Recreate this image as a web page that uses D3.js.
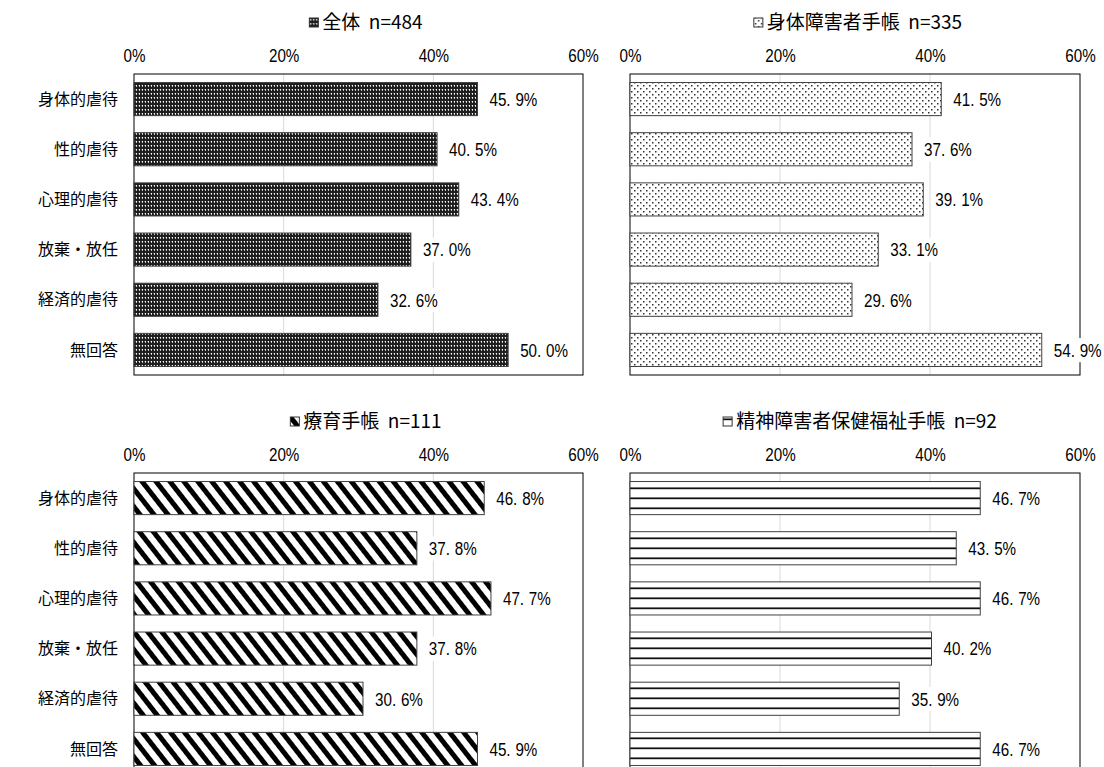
<!DOCTYPE html>
<html><head><meta charset="utf-8">
<script src="https://cdn.jsdelivr.net/npm/d3@7"></script>
<style>
body{margin:0;background:#fff;}
svg{display:block;}
.cat{font-family:"Noto Sans CJK JP",sans-serif;font-size:16px;fill:#000;}
.tick{font-family:"Liberation Sans",sans-serif;font-size:19px;fill:#000;}
.val{font-family:"Liberation Sans",sans-serif;font-size:19px;fill:#000;}
.title{font-family:"Noto Sans CJK JP",sans-serif;font-size:19px;fill:#000;}
</style></head>
<body>
<svg id="c" width="1104" height="767"></svg>
<script>
const categories = ["身体的虐待","性的虐待","心理的虐待","放棄・放任","経済的虐待","無回答"];
const panelTitles = ["全体","身体障害者手帳","療育手帳","精神障害者保健福祉手帳"];
const panelN = [484,335,111,92];
const valuesAll = [45.9,40.5,43.4,37.0,32.6,50.0];
const valuesPhysical = [41.5,37.6,39.1,33.1,29.6,54.9];
const valuesRyoiku = [46.8,37.8,47.7,37.8,30.6,45.9];
const valuesMental = [46.7,43.5,46.7,40.2,35.9,46.7];
const tickValues = [0,20,40,60];

const svg = d3.select("#c");
const defs = svg.append("defs");
const SX = 0.8; // horizontal squeeze to mimic the narrow half-width font

// pattern 1: dense dark dots
const p1 = defs.append("pattern").attr("id","p1").attr("patternUnits","userSpaceOnUse").attr("width",3).attr("height",4);
p1.append("rect").attr("width",3).attr("height",4).attr("fill","#1e1e1e");
p1.append("rect").attr("x",1).attr("y",1).attr("width",1).attr("height",1).attr("fill","#fff");
p1.append("rect").attr("x",1).attr("y",2).attr("width",1).attr("height",1).attr("fill","#bbb");
p1.append("rect").attr("x",0).attr("y",1).attr("width",1).attr("height",1).attr("fill","#555");
// pattern 2: sparse dots
const p2 = defs.append("pattern").attr("id","p2").attr("patternUnits","userSpaceOnUse").attr("width",6).attr("height",6);
p2.append("rect").attr("width",6).attr("height",6).attr("fill","#fff");
p2.append("rect").attr("x",1).attr("y",1).attr("width",1.5).attr("height",1.5).attr("fill","#333");
p2.append("rect").attr("x",4).attr("y",4).attr("width",1.5).attr("height",1.5).attr("fill","#333");
// pattern 3: diagonal stripes
const p3 = defs.append("pattern").attr("id","p3").attr("patternUnits","userSpaceOnUse").attr("width",11).attr("height",11).attr("patternTransform","rotate(-38)");
p3.append("rect").attr("width",11).attr("height",11).attr("fill","#fff");
p3.append("rect").attr("width",5).attr("height",11).attr("fill","#000");
// pattern 4: horizontal lines
const p4 = defs.append("pattern").attr("id","p4").attr("patternUnits","userSpaceOnUse").attr("width",10).attr("height",10);
p4.append("rect").attr("width",10).attr("height",10).attr("fill","#fff");
p4.append("rect").attr("y",7).attr("width",10).attr("height",1).attr("fill","#777");
p4.append("rect").attr("y",8).attr("width",10).attr("height",1.2).attr("fill","#111");

const panels = [
  {values: valuesAll, pat:"p1", x0:134, x1:583, y0:74, labels:true, tcx:366},
  {values: valuesPhysical, pat:"p2", x0:630, x1:1080, y0:74, labels:false, tcx:858},
  {values: valuesRyoiku, pat:"p3", x0:134, x1:583, y0:473, labels:true, tcx:366},
  {values: valuesMental, pat:"p4", x0:630, x1:1080, y0:473, labels:false, tcx:860}
];
const H = 301;

panels.forEach((p,i)=>{
  const x = d3.scaleLinear().domain([0,60]).range([p.x0,p.x1]);
  const y = d3.scaleBand().domain(categories).range([p.y0,p.y0+H]).paddingInner(0.34).paddingOuter(0.17);
  const g = svg.append("g");
  // gridlines
  g.selectAll("line.grid").data(tickValues.filter(t=>t>0&&t<60)).enter().append("line")
    .attr("x1",d=>x(d)).attr("x2",d=>x(d)).attr("y1",p.y0).attr("y2",p.y0+H)
    .attr("stroke","#d9d9d9").attr("stroke-width",1);
  // frame
  g.append("rect").attr("x",p.x0).attr("y",p.y0).attr("width",p.x1-p.x0).attr("height",H)
    .attr("fill","none").attr("stroke","#000").attr("stroke-width",1);
  // top axis tick labels
  const ax = d3.axisTop(x).tickValues(tickValues).tickFormat(d=>d+"%").tickSize(0).tickPadding(0);
  const axg = g.append("g").attr("transform",`translate(0,${p.y0-12})`).call(ax);
  axg.select(".domain").remove();
  axg.selectAll("text").attr("class","tick").attr("font-family",null).attr("font-size",null)
    .attr("transform",`scale(${SX},1)`);
  // bars
  g.selectAll("rect.bar").data(p.values).enter().append("rect")
    .attr("x",x(0)).attr("y",(d,k)=>y(categories[k]))
    .attr("width",d=>x(d)-x(0)).attr("height",y.bandwidth())
    .attr("fill",`url(#${p.pat})`).attr("stroke","#404040").attr("stroke-width",1);
  // value labels with white background
  p.values.forEach((v,k)=>{
    const cy = y(categories[k])+y.bandwidth()/2;
    const s = v.toFixed(1).split(".");
    const lg = g.append("g").attr("transform",`translate(${x(v)+12},${cy}) scale(${SX},1)`);
    const bgr = lg.append("rect").attr("fill","#fff");
    const t = lg.append("text").attr("class","val").attr("x",0).attr("y",0).attr("dy","0.36em");
    t.append("tspan").text(s[0]+".");
    t.append("tspan").attr("dx",6).text(s[1]+"%");
    const bb = t.node().getBBox();
    bgr.attr("x",bb.x-3).attr("y",bb.y-1).attr("width",bb.width+6).attr("height",bb.height+2);
  });
  // category labels
  if (p.labels) {
    g.selectAll("text.cat").data(categories).enter().append("text").attr("class","cat")
      .attr("x",p.x0-16).attr("y",d=>y(d)+y.bandwidth()/2).attr("dy","0.35em")
      .attr("text-anchor","end").text(d=>d);
  }
  // title with legend icon
  const tg = g.append("g");
  const tt = tg.append("text").attr("class","title").attr("x",13).attr("y",0).attr("dy","0.35em")
    .text(`${panelTitles[i]}  n=${panelN[i]}`).attr("xml:space","preserve");
  tg.append("rect").attr("x",0).attr("y",-4).attr("width",9).attr("height",9)
    .attr("fill",`url(#${p.pat})`).attr("stroke","#333").attr("stroke-width",1);
  const w = 13 + tt.node().getComputedTextLength();
  tg.attr("transform",`translate(${p.tcx - w/2},${p.y0-52})`);
});
</script>
</body></html>
